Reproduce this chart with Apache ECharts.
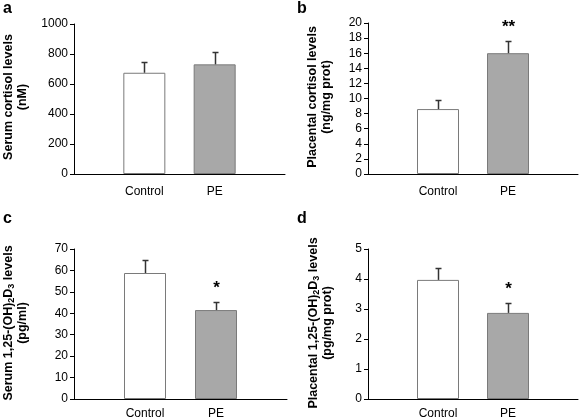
<!DOCTYPE html>
<html><head><meta charset="utf-8">
<script src="https://cdn.jsdelivr.net/npm/echarts@6/dist/echarts.min.js"></script>
<style>html,body{margin:0;padding:0;background:#fff}#c{width:581px;height:420px}</style>
</head><body><div id="c"></div>
<script>
var categories = ["", "Control", "PE", ""];
var groups = ["Control", "PE"];
var valuesA = [675, 731];
var errorsA = [70, 85];
var sigA = ["", ""];
var valuesB = [8.6, 16.0];
var errorsB = [1.15, 1.6];
var sigB = ["", "**"];
var valuesC = [58.8, 41.5];
var errorsC = [5.9, 3.8];
var sigC = ["", "*"];
var valuesD = [3.97, 2.87];
var errorsD = [0.41, 0.32];
var sigD = ["", "*"];
var panelLabels = ["a", "b", "c", "d"];
var yTitles = [
  "Serum cortisol levels\n(nM)",
  "Placental cortisol levels\n(ng/mg prot)",
  "Serum 1,25-(OH){sub|2}D{sub|3} levels\n(pg/ml)",
  "Placental 1,25-(OH){sub|2}D{sub|3} levels\n(pg/mg prot)"
];
var yMax = [1000, 20, 70, 5];
var yInt = [200, 2, 10, 1];

var panels = [
  {v: valuesA, e: errorsA, s: sigA},
  {v: valuesB, e: errorsB, s: sigB},
  {v: valuesC, e: errorsC, s: sigC},
  {v: valuesD, e: errorsD, s: sigD}
];
var grids = [
  {left: 74, top: 24, width: 211, height: 150},
  {left: 368, top: 23, width: 212, height: 151},
  {left: 74, top: 249, width: 213, height: 151},
  {left: 368, top: 249, width: 212, height: 151}
];
var xMargins = [12, 12, 9, 9];
var FONT = 'Arial, "Liberation Sans", sans-serif';
var option = {
  animation: false,
  backgroundColor: '#fff',
  grid: grids.map(function (g) { return Object.assign({containLabel: false}, g); }),
  xAxis: [], yAxis: [], series: [], graphic: []
};
var titlePos = [[16, 97], [320, 97], [16, 323], [321, 323]];
var labelPos = [[3, 1], [297, 1], [3, 211], [297, 211]];
panels.forEach(function (p, i) {
  option.xAxis.push({
    type: 'category', gridIndex: i, data: categories, boundaryGap: false,
    axisLine: {lineStyle: {color: '#000', width: 1}},
    axisTick: {show: false},
    axisLabel: {color: '#000', fontSize: 12, fontFamily: FONT, margin: xMargins[i], interval: 0}
  });
  option.yAxis.push({
    type: 'value', gridIndex: i, min: 0, max: yMax[i], interval: yInt[i],
    splitLine: {show: false},
    axisLine: {show: true, lineStyle: {color: '#000', width: 1}},
    axisTick: {show: true, length: 4, lineStyle: {color: '#000'}},
    axisLabel: {color: '#000', fontSize: 12, fontFamily: FONT, margin: 6,
      formatter: function (v) { return String(v); }}
  });
  var barData = p.v.map(function (v, k) {
    return {value: [groups[k], v], itemStyle: {color: k === 0 ? '#ffffff' : '#a8a8a8', borderColor: '#7a7a7a', borderWidth: 1}};
  });
  option.series.push({
    type: 'bar', xAxisIndex: i, yAxisIndex: i, barWidth: 42, data: barData
  });
  var errData = p.v.map(function (v, k) { return [groups[k], v, v + p.e[k], p.s[k]]; });
  option.series.push({
    type: 'custom', xAxisIndex: i, yAxisIndex: i, data: errData, z: 5,
    renderItem: function (params, api) {
      var x = api.value(0);
      var base = api.coord([x, api.value(1)]);
      var top = api.coord([x, api.value(2)]);
      var cx = Math.round(base[0]) + 0.5;
      var children = [
        {type: 'line', shape: {x1: cx, y1: base[1], x2: cx, y2: Math.round(top[1]) + 0.5}, style: {stroke: '#333', lineWidth: 1.5}},
        {type: 'line', shape: {x1: cx - 3, y1: Math.round(top[1]) + 0.5, x2: cx + 3, y2: Math.round(top[1]) + 0.5}, style: {stroke: '#333', lineWidth: 1.5}}
      ];
      var s = p.s[params.dataIndex];
      if (s) {
        children.push({type: 'text', x: cx, y: top[1] - 5, style: {text: s, fill: '#000', font: 'bold 17px ' + FONT, align: 'center', verticalAlign: 'bottom'}});
      }
      return {type: 'group', children: children};
    }
  });
  option.graphic.push({
    type: 'text', left: labelPos[i][0], top: labelPos[i][1],
    style: {text: panelLabels[i], fill: '#000', font: 'bold 16px ' + FONT}
  });
  option.graphic.push({
    type: 'text', x: titlePos[i][0], y: titlePos[i][1], rotation: Math.PI / 2,
    style: {
      text: yTitles[i], fill: '#000', font: 'bold 12.5px ' + FONT, align: 'center', verticalAlign: 'middle', lineHeight: 14,
      rich: {sub: {font: 'bold 9px ' + FONT, verticalAlign: 'bottom', padding: [5, 0, 0, 0]}}
    }
  });
});
var chart = echarts.init(document.getElementById('c'), null, {renderer: 'canvas'});
chart.setOption(option);
</script></body></html>
